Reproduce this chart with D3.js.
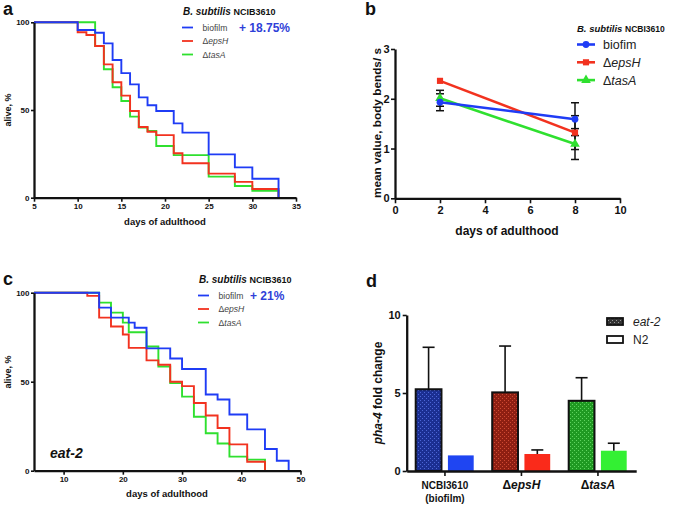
<!DOCTYPE html>
<html><head><meta charset="utf-8">
<script src="https://cdn.jsdelivr.net/npm/d3@7"></script>
<style>body{margin:0;background:#fff}svg{display:block;font-family:"Liberation Sans",Arial,sans-serif}</style>
</head><body><svg id="fig" width="675" height="506"></svg>
<script>
// ---------- DATA ----------
// Panel a: survival (N2), B. subtilis strains
const aBiofilmDays  = [5,10,12,13,14,15,16,17,18,19,21,22,25,28,30,33];
const aBiofilmAlive = [100,95.6,94,88,78.5,71,64.6,57.2,52.7,49.4,42.4,37.1,24.7,17.3,10.8,0];
const aEpsHDays     = [5,10,11,12,13,14,15,16,17,18,19,21,22,25,28,30,33];
const aEpsHAlive    = [100,94.3,92.8,86.5,76,65.8,58.2,49.4,40.3,37.6,35.7,25.3,19.6,13.7,9,5,0];
const aTasADays     = [5,12,13,14,15,16,17,18,19,21,25,28,30,33];
const aTasAAlive    = [100,86.5,73.2,63,55.1,46.2,40,38,29.5,24.3,12,6.7,4,0];
const aXTicks = [5,10,15,20,25,30,35];
const survYTicks = [0,50,100];

// Panel b: body bends
const bDays = [2,8];
const bBiofilm = [1.93,1.59], bBiofilmErr = [0.17,0.33];
const bEpsH    = [2.36,1.32], bEpsHErr    = [0,0.34];
const bTasA    = [2.01,1.09], bTasAErr    = [0.16,0.31];
const bXTicks = [0,2,4,6,8,10];
const bYTicks = [0,1,2,3];

// Panel c: survival (eat-2)
const cBiofilmDays  = [5,16,18,21,22,24,28,30,34,36,38,41,44,46,48];
const cBiofilmAlive = [100,91.6,86,83.2,80.3,68.7,63,57.1,42.8,40,31.6,23.2,12.2,5.6,0];
const cEpsHDays     = [5,14,16,18,20,21,24,26,28,30,32,34,36,38,41,44];
const cEpsHAlive    = [100,98.2,86,81,76.5,69,62,59.5,50,47.5,38,31,24,14.8,5,0];
const cTasADays     = [5,16,18,20,21,24,26,28,30,32,34,36,38,41,44];
const cTasAAlive    = [100,94.4,88.8,83.2,77.8,69.8,58.5,49.2,41.6,30.3,21,15.3,7.9,6.2,0];
const cXTicks = [10,20,30,40,50];

// Panel d: pha-4 fold change
const dGroups = ["NCBI3610","epsH","tasA"];
const dEat2 = [5.24,5.04,4.5],  dEat2Err = [2.69,2.97,1.48];
const dN2   = [1.0,1.09,1.3],   dN2Err   = [0,0.26,0.48];
const dYTicks = [0,5,10];

// ---------- STYLE ----------
const BLUE="#1f3cf5", RED="#f2321f", GREEN="#2fe02f";
const FONT='"Liberation Sans",Arial,sans-serif';
const fmt=d3.format("d");
const svg=d3.select("#fig");
svg.append("rect").attr("width",675).attr("height",506).attr("fill","#fff");
const defs=svg.append("defs");
function hatch(id,base,light){
  const p=defs.append("pattern").attr("id",id).attr("width",4).attr("height",4).attr("patternUnits","userSpaceOnUse");
  p.append("rect").attr("width",4).attr("height",4).attr("fill",base);
  p.append("rect").attr("width",1).attr("height",1).attr("fill",light);
  p.append("rect").attr("x",2).attr("y",2).attr("width",1).attr("height",1).attr("fill",light);
}
hatch("hB","#1b2f92","#4c66d6");
hatch("hR","#8e1f12","#cf4a33");
hatch("hG","#1f9a22","#5fd45f");
hatch("hK","#333","#999");

function styleAxis(g,fs){
  g.attr("font-family",FONT).attr("font-size",fs).attr("font-weight","bold");
  g.select(".domain").attr("stroke","#111").attr("stroke-width",2.3);
  g.selectAll(".tick line").attr("stroke","#111").attr("stroke-width",1.6);
  g.selectAll(".tick text").attr("fill","#111");
}
function txt(x,y,s,o={}){
  const t=svg.append("text").attr("x",x).attr("y",y).attr("font-family",FONT)
    .attr("font-size",o.size||10).attr("font-weight",o.weight||"bold").attr("fill",o.fill||"#111")
    .attr("text-anchor",o.anchor||"start");
  if(o.style) t.attr("font-style",o.style);
  if(o.rotate) t.attr("transform",`rotate(${o.rotate},${x},${y})`);
  if(s!==null) t.text(s);
  return t;
}
function survival(x,y,days,alive,color){
  const line=d3.line().x((d,i)=>x(days[i])).y(d=>y(d)).curve(d3.curveStepAfter);
  svg.append("path").attr("d",line(alive)).attr("fill","none").attr("stroke",color).attr("stroke-width",1.9);
}
function survLegend(x,y,pct){
  const t=txt(x,y,null,{size:10});
  t.append("tspan").attr("font-style","italic").text("B. subtilis ");
  t.append("tspan").attr("font-size",9).text("NCIB3610");
  const items=[["biofilm",BLUE,false],["ΔepsH",RED,true],["ΔtasA",GREEN,true]];
  items.forEach((it,i)=>{
    const yy=y+12.5+i*13.5;
    svg.append("line").attr("x1",x-1).attr("x2",x+10).attr("y1",yy).attr("y2",yy).attr("stroke",it[1]).attr("stroke-width",1.8);
    const tt=txt(x+19.5,yy+3.2,null,{size:8.6,weight:"normal",fill:"#444"});
    if(it[2]){tt.append("tspan").text("Δ");tt.append("tspan").attr("font-style","italic").text(it[0].slice(1));}
    else tt.text(it[0]);
  });
  txt(pct[0],y+17,pct[1],{size:12,fill:"#2f3fd8"});
}

// ---------- PANEL A ----------
{
  const x=d3.scaleLinear([5,35],[34,296]);
  const y=d3.scaleLinear([0,100],[197.7,22.3]);
  survival(x,y,aTasADays,aTasAAlive,GREEN);
  survival(x,y,aEpsHDays,aEpsHAlive,RED);
  survival(x,y,aBiofilmDays,aBiofilmAlive,BLUE);
  const gx=svg.append("g").attr("transform",`translate(0,${y(0)})`).call(d3.axisBottom(x).tickValues(aXTicks).tickFormat(fmt).tickSize(4).tickSizeOuter(0).tickPadding(2));
  styleAxis(gx,8);
  const gy=svg.append("g").attr("transform",`translate(${x(5)},0)`).call(d3.axisLeft(y).tickValues(survYTicks).tickFormat(fmt).tickSize(3).tickSizeOuter(0).tickPadding(1.5));
  styleAxis(gy,8);
  txt(165,225,"days of adulthood",{size:9.5,anchor:"middle"});
  txt(11,110,"alive, %",{size:9,anchor:"middle",rotate:-90});
  txt(3,15,"a",{size:18});
  survLegend(183,15,[239,"+ 18.75%"]);
}

// ---------- PANEL C ----------
{
  const x=d3.scaleLinear([5,50],[34,300.5]);
  const y=d3.scaleLinear([0,100],[470.7,292.7]);
  survival(x,y,cTasADays,cTasAAlive,GREEN);
  survival(x,y,cEpsHDays,cEpsHAlive,RED);
  survival(x,y,cBiofilmDays,cBiofilmAlive,BLUE);
  const gx=svg.append("g").attr("transform",`translate(0,${y(0)})`).call(d3.axisBottom(x).tickValues(cXTicks).tickFormat(fmt).tickSize(4).tickSizeOuter(0).tickPadding(2));
  styleAxis(gx,8);
  const gy=svg.append("g").attr("transform",`translate(${x(5)},0)`).call(d3.axisLeft(y).tickValues(survYTicks).tickFormat(fmt).tickSize(3).tickSizeOuter(0).tickPadding(1.5));
  styleAxis(gy,8);
  txt(167,497,"days of adulthood",{size:9.5,anchor:"middle"});
  txt(11,372,"alive, %",{size:9,anchor:"middle",rotate:-90});
  txt(3,285,"c",{size:18});
  txt(50,458,"eat-2",{size:14,style:"italic"});
  survLegend(199,283,[250,"+ 21%"]);
}

// ---------- PANEL B ----------
{
  const x=d3.scaleLinear([0,10],[395,620]);
  const y=d3.scaleLinear([0,3],[198.3,49]);
  const series=[[bTasA,bTasAErr,GREEN,d3.symbolTriangle,40],[bEpsH,bEpsHErr,RED,d3.symbolSquare,38],[bBiofilm,bBiofilmErr,BLUE,d3.symbolCircle,36]];
  series.forEach(s=>{
    svg.append("path").attr("d",d3.line().x((d,i)=>x(bDays[i])).y(d=>y(d))(s[0]))
      .attr("fill","none").attr("stroke",s[2]).attr("stroke-width",2.6);
  });
  series.forEach(s=>{
    s[0].forEach((v,i)=>{
      const e=s[1][i]; if(!e) return;
      const cx=x(bDays[i]);
      svg.append("line").attr("x1",cx).attr("x2",cx).attr("y1",y(v-e)).attr("y2",y(v+e)).attr("stroke","#111").attr("stroke-width",1.5);
      [v-e,v+e].forEach(w=>svg.append("line").attr("x1",cx-4).attr("x2",cx+4).attr("y1",y(w)).attr("y2",y(w)).attr("stroke","#111").attr("stroke-width",1.5));
    });
  });
  series.forEach(s=>{
    s[0].forEach((v,i)=>{
      svg.append("path").attr("d",d3.symbol(s[3],s[4])()).attr("fill",s[2])
        .attr("transform",`translate(${x(bDays[i])},${y(v)})`);
    });
  });
  const gx=svg.append("g").attr("transform",`translate(0,${y(0)})`).call(d3.axisBottom(x).tickValues(bXTicks).tickFormat(fmt).tickSize(5).tickSizeOuter(0).tickPadding(3));
  styleAxis(gx,11);
  const gy=svg.append("g").attr("transform",`translate(${x(0)},0)`).call(d3.axisLeft(y).tickValues(bYTicks).tickFormat(fmt).tickSize(4).tickSizeOuter(0).tickPadding(1.5));
  styleAxis(gy,11);
  txt(381,123,"mean value, body bends/ s",{size:11.8,anchor:"middle",rotate:-90});
  txt(507,235,"days of adulthood",{size:12,anchor:"middle"});
  txt(365,15,"b",{size:18});
  const lt=txt(577,32,null,{size:9.5});
  lt.append("tspan").attr("font-style","italic").text("B. subtilis ");
  lt.append("tspan").attr("font-size",8.5).text("NCBI3610");
  [["biofim",BLUE,d3.symbolCircle,36,false],["ΔepsH",RED,d3.symbolSquare,38,true],["ΔtasA",GREEN,d3.symbolTriangle,40,true]].forEach((it,i)=>{
    const yy=44.5+i*17.8;
    svg.append("line").attr("x1",577).attr("x2",595).attr("y1",yy).attr("y2",yy).attr("stroke",it[1]).attr("stroke-width",2.6);
    svg.append("path").attr("d",d3.symbol(it[2],it[3])()).attr("fill",it[1]).attr("transform",`translate(586,${yy})`);
    const tt=txt(603,yy+4.5,null,{size:12.5,weight:"normal",fill:"#222"});
    if(it[4]){tt.append("tspan").text("Δ");tt.append("tspan").attr("font-style","italic").text(it[0].slice(1));}
    else tt.text(it[0]);
  });
}

// ---------- PANEL D ----------
{
  const y=d3.scaleLinear([0,10],[471,315]);
  const x=d3.scaleBand().domain(dGroups).range([406.7,636.2]);
  const xi=d3.scaleBand().domain(["eat-2","N2"]).range([9,67]).paddingInner(0.2);
  const hatchIds=["hB","hR","hG"], solid=["#1f45f2","#fa2a1a","#33f033"];
  dGroups.forEach((g,i)=>{
    const x0=x(g);
    const bx=x0+xi("eat-2"), bw=xi.bandwidth();
    svg.append("rect").attr("x",bx).attr("y",y(dEat2[i])).attr("width",bw).attr("height",y(0)-y(dEat2[i]))
      .attr("fill",`url(#${hatchIds[i]})`).attr("stroke","#111").attr("stroke-width",2);
    const ex=bx+bw/2;
    svg.append("line").attr("x1",ex).attr("x2",ex).attr("y1",y(dEat2[i])).attr("y2",y(dEat2[i]+dEat2Err[i])).attr("stroke","#111").attr("stroke-width",1.6);
    svg.append("line").attr("x1",ex-6).attr("x2",ex+6).attr("y1",y(dEat2[i]+dEat2Err[i])).attr("y2",y(dEat2[i]+dEat2Err[i])).attr("stroke","#111").attr("stroke-width",1.6);
    const nx=x0+xi("N2");
    svg.append("rect").attr("x",nx).attr("y",y(dN2[i])).attr("width",bw).attr("height",y(0)-y(dN2[i])).attr("fill",solid[i]);
    if(dN2Err[i]>0){
      const nc=nx+bw/2;
      svg.append("line").attr("x1",nc).attr("x2",nc).attr("y1",y(dN2[i])).attr("y2",y(dN2[i]+dN2Err[i])).attr("stroke","#111").attr("stroke-width",1.6);
      svg.append("line").attr("x1",nc-6).attr("x2",nc+6).attr("y1",y(dN2[i]+dN2Err[i])).attr("y2",y(dN2[i]+dN2Err[i])).attr("stroke","#111").attr("stroke-width",1.6);
    }
  });
  const gx=svg.append("g").attr("transform",`translate(0,${y(0)})`).call(d3.axisBottom(x).tickSize(5).tickSizeOuter(0).tickFormat(""));
  styleAxis(gx,10);
  const gy=svg.append("g").attr("transform",`translate(406.7,0)`).call(d3.axisLeft(y).tickValues(dYTicks).tickFormat(fmt).tickSize(4).tickSizeOuter(0).tickPadding(2));
  styleAxis(gy,11);
  const cx=g=>x(g)+x.bandwidth()/2;
  txt(cx("NCBI3610"),489,"NCBI3610",{size:10,anchor:"middle"});
  txt(cx("NCBI3610"),502,"(biofilm)",{size:10,anchor:"middle"});
  ["epsH","tasA"].forEach(g=>{
    const t=txt(cx(g),489,null,{size:12,anchor:"middle"});
    t.append("tspan").text("Δ");
    t.append("tspan").attr("font-style","italic").text(g);
  });
  const yl=txt(382,393,null,{size:12,anchor:"middle",rotate:-90});
  yl.append("tspan").attr("font-style","italic").text("pha-4");
  yl.append("tspan").text(" fold change");
  txt(366,287,"d",{size:18});
  svg.append("rect").attr("x",607).attr("y",318).attr("width",16).attr("height",7).attr("fill","url(#hK)").attr("stroke","#111").attr("stroke-width",1.8);
  svg.append("rect").attr("x",607).attr("y",336).attr("width",16).attr("height",7).attr("fill","#fff").attr("stroke","#111").attr("stroke-width",1.8);
  txt(633,326,"eat-2",{size:12,weight:"normal",style:"italic",fill:"#222"});
  txt(633,344,"N2",{size:12,weight:"normal",fill:"#222"});
}
</script></body></html>
